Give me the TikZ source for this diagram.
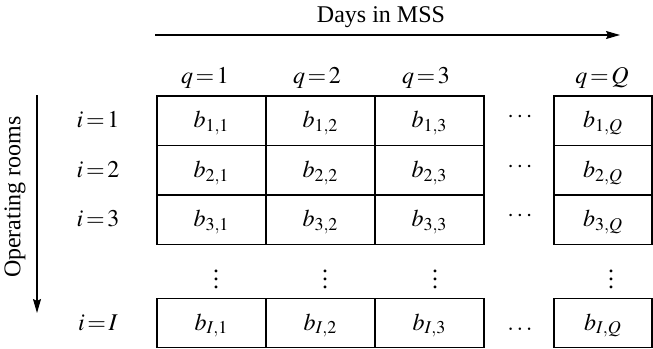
\documentclass[tikz,border=0pt]{standalone}
\usepackage{mathptmx}
\usepackage{fontspec}
\setmainfont{Liberation Serif}
\usetikzlibrary{arrows.meta}
\thickmuskip=2mu plus 1mu
\tikzset{
  every node/.style={font=\fontsize{12}{14}\selectfont},
  cell/.style={draw, line width=0.6pt, minimum width=54.5pt, minimum height=24.75pt,
    inner sep=0pt, outer sep=0pt, text height=7pt, text depth=0pt},
  lastcell/.style={cell, minimum width=49pt},
  lbl/.style={inner sep=0pt, anchor=base},
  arr/.style={line width=0.6pt, -{Stealth[length=7pt,width=4pt,inset=1pt]}}
}
\begin{document}
\begin{tikzpicture}[x=0.5pt,y=-0.5pt]
\useasboundingbox (0,0) rectangle (653,348);
% title and arrow
\node[lbl] (days) at (381,23) {Days in MSS};
\coordinate (hA) at (155,35);
\coordinate (hB) at (620,35);
\draw[arr] (hA) -- (hB);
% vertical arrow
\coordinate (vA) at (37,95);
\coordinate (vB) at (37,313);
\draw[arr] (vA) -- (vB);
\node[rotate=90, inner sep=0pt] (oper) at (15,197) {Operating rooms};
% column labels
\node[lbl] (q1) at (205,83) {$q=1$};
\node[lbl] (q2) at (317,83) {$q=2$};
\node[lbl] (q3) at (426,83) {$q=3$};
\node[lbl] (qQ) at (602,83) {$q=Q$};
% rows
\foreach \r/\yc in {1/120.75, 2/170.25, 3/219.75, I/323} {
  \node[lbl] (i\r) at (98,\yc+7) {$i=\r$};
  \foreach \c/\xc in {1/211.5, 2/320.5, 3/429.5} {
    \node[cell] (b\r\c) at (\xc,\yc) {$b_{\r,\c}$};
  }
  \node[lastcell] (b\r Q) at (603,\yc) {$b_{\r,Q}$};
}
\foreach \r/\yc in {1/120.75, 2/170.25, 3/219.75} {
  \node[lbl] (h\r) at (520,\yc+2) {$\cdots$};
}
\node[lbl] (hI) at (520,330) {$\ldots$};
% vertical dots
\foreach \c/\xc in {1/216, 2/325, 3/435, Q/611} {
  \node[inner sep=0pt] (v\c) at (\xc,273) {$\vdots$};
}
\end{tikzpicture}
\end{document}
